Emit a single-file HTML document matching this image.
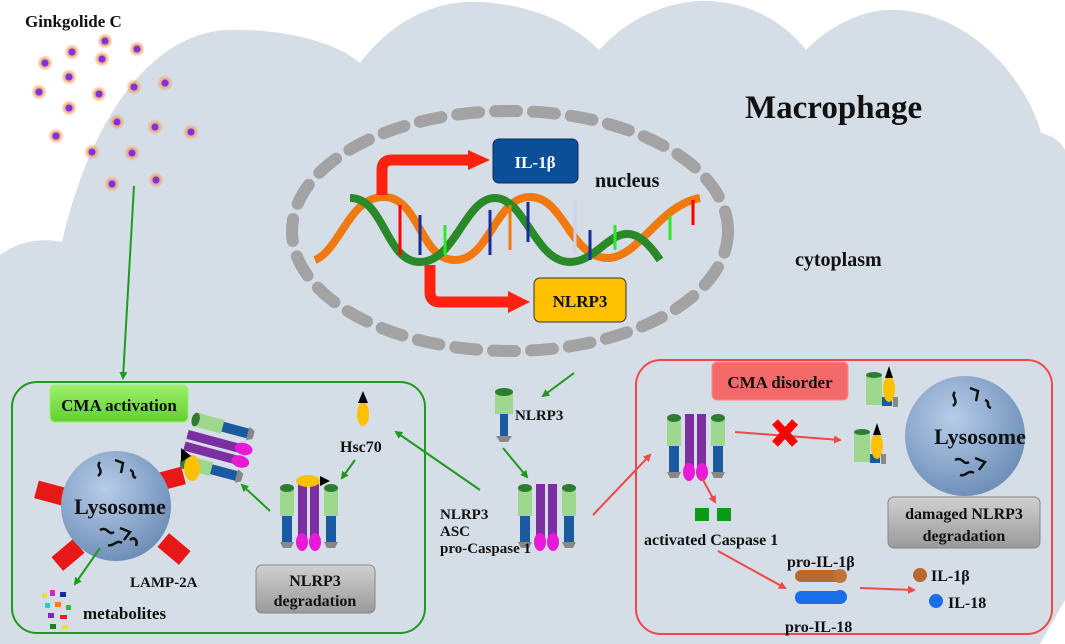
<!DOCTYPE html><html><head><meta charset="utf-8"><style>body{margin:0;background:#fff}svg{display:block}text{font-family:"Liberation Serif",serif;font-weight:bold;fill:#111}</style></head><body>
<svg width="1065" height="644" viewBox="0 0 1065 644" xmlns="http://www.w3.org/2000/svg">
<defs>
<radialGradient id="lys" cx="40%" cy="35%" r="70%"><stop offset="0" stop-color="#b7cde9"/><stop offset="1" stop-color="#6b8cb6"/></radialGradient>
<radialGradient id="halo"><stop offset="0.45" stop-color="#f0a070"/><stop offset="1" stop-color="#f0a070" stop-opacity="0"/></radialGradient>
<linearGradient id="gbox" x1="0" y1="0" x2="0" y2="1"><stop offset="0" stop-color="#9cf06a"/><stop offset="1" stop-color="#62d032"/></linearGradient>
<linearGradient id="gray" x1="0" y1="0" x2="0" y2="1"><stop offset="0" stop-color="#d0d0d0"/><stop offset="1" stop-color="#9a9a9a"/></linearGradient>
<marker id="ag" markerWidth="8" markerHeight="8" refX="6" refY="4" orient="auto" markerUnits="userSpaceOnUse"><path d="M0,0L8,4L0,8z" fill="#1f9a1f"/></marker>
<marker id="ar" markerWidth="8" markerHeight="8" refX="6" refY="4" orient="auto" markerUnits="userSpaceOnUse"><path d="M0,0L8,4L0,8z" fill="#f04848"/></marker>
<g id="cx">
<rect x="0" y="8" width="14" height="28" fill="#9ed88e"/><ellipse cx="7" cy="8" rx="7" ry="4" fill="#2e7d32"/><rect x="2" y="36" width="10" height="26" fill="#1a5aa0"/><path d="M0,62h14l-3,6h-8z" fill="#888"/>
<rect x="44" y="8" width="14" height="28" fill="#9ed88e"/><ellipse cx="51" cy="8" rx="7" ry="4" fill="#2e7d32"/><rect x="46" y="36" width="10" height="26" fill="#1a5aa0"/><path d="M44,62h14l-3,6h-8z" fill="#888"/>
<rect x="18" y="4" width="9" height="56" fill="#7b2fa0"/><rect x="30" y="4" width="9" height="56" fill="#7b2fa0"/>
<ellipse cx="22" cy="62" rx="6" ry="9" fill="#e81ad8"/><ellipse cx="35" cy="62" rx="6" ry="9" fill="#e81ad8"/>
</g>
</defs>
<path d="M0,255 C20,240 45,238 62,242 C90,120 150,35 225,30 C290,28 340,45 360,63 C400,10 450,0 480,2 C540,5 580,30 599,50 C640,5 690,0 708,1 C760,3 790,30 806,50 C840,15 880,8 898,10 C980,15 1030,90 1041,133 C1050,135 1060,140 1065,150 L1065,600 L1040,644 L0,644 Z" fill="#d5dde6"/>
<text x="25" y="27" font-size="17">Ginkgolide C</text>
<g>
<g fill="url(#halo)"><circle cx="105" cy="41" r="8"/><circle cx="137" cy="49" r="8"/><circle cx="72" cy="52" r="8"/><circle cx="102" cy="59" r="8"/><circle cx="45" cy="63" r="8"/><circle cx="69" cy="77" r="8"/><circle cx="134" cy="87" r="8"/><circle cx="165" cy="83" r="8"/><circle cx="39" cy="92" r="8"/><circle cx="99" cy="94" r="8"/><circle cx="69" cy="108" r="8"/><circle cx="117" cy="122" r="8"/><circle cx="155" cy="127" r="8"/><circle cx="191" cy="132" r="8"/><circle cx="56" cy="136" r="8"/><circle cx="92" cy="152" r="8"/><circle cx="132" cy="153" r="8"/><circle cx="156" cy="180" r="8"/><circle cx="112" cy="184" r="8"/></g>
<g fill="#7a35e0"><circle cx="105" cy="41" r="3.5"/><circle cx="137" cy="49" r="3.5"/><circle cx="72" cy="52" r="3.5"/><circle cx="102" cy="59" r="3.5"/><circle cx="45" cy="63" r="3.5"/><circle cx="69" cy="77" r="3.5"/><circle cx="134" cy="87" r="3.5"/><circle cx="165" cy="83" r="3.5"/><circle cx="39" cy="92" r="3.5"/><circle cx="99" cy="94" r="3.5"/><circle cx="69" cy="108" r="3.5"/><circle cx="117" cy="122" r="3.5"/><circle cx="155" cy="127" r="3.5"/><circle cx="191" cy="132" r="3.5"/><circle cx="56" cy="136" r="3.5"/><circle cx="92" cy="152" r="3.5"/><circle cx="132" cy="153" r="3.5"/><circle cx="156" cy="180" r="3.5"/><circle cx="112" cy="184" r="3.5"/></g>
</g>
<text x="745" y="118" font-size="33">Macrophage</text>
<text x="795" y="266" font-size="20">cytoplasm</text>
<ellipse cx="510" cy="231" rx="218" ry="120" fill="none" stroke="#a3a3a3" stroke-width="12" stroke-dasharray="22 16" stroke-linecap="round"/>
<g fill="none" stroke-width="8">
<path d="M315,260 C340,250 350,195 385,197 C420,199 420,260 455,260 C490,260 495,197 530,197 C565,197 570,260 610,258 C640,255 660,205 700,198" stroke="#f07a10"/>
<path d="M350,198 C385,198 385,262 420,262 C455,262 465,198 495,198 C525,198 535,262 570,262 C605,262 620,200 660,260" stroke="#2a8a2a"/>
</g>
<g stroke-width="3"><path d="M400,205v50" stroke="#f00"/><path d="M420,215v40" stroke="#1a2a9a"/><path d="M445,225v30" stroke="#2ee82e"/><path d="M490,210v45" stroke="#1a2a9a"/><path d="M510,205v45" stroke="#f07a10"/><path d="M528,202v40" stroke="#1a2a9a"/><path d="M575,200v55" stroke="#d0d0f0"/><path d="M590,230v30" stroke="#1a2a9a"/><path d="M615,225v25" stroke="#2ee82e"/><path d="M670,215v25" stroke="#2ee82e"/><path d="M693,200v25" stroke="#f00"/></g>
<path d="M382,195 V170 Q382,160 392,160 H470" fill="none" stroke="#f21" stroke-width="11"/><path d="M468,150 L490,160 L468,170z" fill="#f21"/>
<path d="M430,265 V292 Q430,302 440,302 H510" fill="none" stroke="#f21" stroke-width="11"/><path d="M508,291 L530,302 L508,313z" fill="#f21"/>
<rect x="493" y="139" width="85" height="44" rx="6" fill="#0b4f99" stroke="#0a2a55"/><text x="535" y="168" font-size="17" text-anchor="middle" style="fill:#fff">IL-1β</text>
<text x="595" y="187" font-size="20">nucleus</text>
<rect x="534" y="278" width="92" height="44" rx="6" fill="#ffc000" stroke="#333"/><text x="580" y="307" font-size="17" text-anchor="middle">NLRP3</text>
<line x1="134" y1="186" x2="123" y2="378" stroke="#1f9a1f" stroke-width="2" marker-end="url(#ag)"/>
<rect x="12" y="382" width="413" height="251" rx="25" fill="none" stroke="#1f9a1f" stroke-width="2"/>
<rect x="50" y="385" width="138" height="37" rx="5" fill="url(#gbox)" stroke="#9cf06a"/><text x="119" y="411" font-size="17" text-anchor="middle">CMA activation</text>
<g fill="#e81818"><rect x="36" y="484" width="28" height="18" transform="rotate(15 50 493)"/><rect x="54" y="546" width="28" height="18" transform="rotate(-40 68 555)"/><rect x="160" y="540" width="28" height="18" transform="rotate(40 174 549)"/><rect x="156" y="470" width="28" height="18" transform="rotate(-15 170 479)"/></g>
<circle cx="116" cy="506" r="55" fill="url(#lys)"/>
<g fill="none" stroke="#111" stroke-width="2.5"><path d="M100,462 c-5,5 5,8 -2,14"/><path d="M115,460 l8,3 -2,10"/><path d="M130,470 c6,2 0,6 6,8"/><path d="M100,530 c8,-4 8,6 14,2"/><path d="M120,528 l10,4 -6,8"/><path d="M108,545 c6,2 8,-6 14,-2"/><path d="M130,540 c4,-4 8,0 6,6"/></g>
<text x="120" y="514" font-size="22" text-anchor="middle">Lysosome</text>
<text x="130" y="587" font-size="15">LAMP-2A</text>
<line x1="100" y1="548" x2="75" y2="584" stroke="#1f9a1f" stroke-width="2" marker-end="url(#ag)"/>
<g><rect x="42" y="593" width="5" height="5" fill="#f0e020"/><rect x="50" y="590" width="5" height="6" fill="#e020c0"/><rect x="60" y="592" width="6" height="5" fill="#1a2a9a"/><rect x="45" y="603" width="5" height="5" fill="#20d0d0"/><rect x="55" y="602" width="6" height="5" fill="#f08020"/><rect x="66" y="605" width="5" height="5" fill="#20c040"/><rect x="48" y="613" width="6" height="5" fill="#8020e0"/><rect x="60" y="615" width="7" height="4" fill="#f02020"/><rect x="50" y="624" width="6" height="5" fill="#208020"/><rect x="62" y="625" width="6" height="4" fill="#f0e020"/></g>
<text x="83" y="619" font-size="17">metabolites</text>
<g transform="translate(217,448) rotate(-75) translate(-29,-36)"><use href="#cx"/></g>
<ellipse cx="192" cy="468" rx="8" ry="13" fill="#ffc000"/><path d="M181,448 l10,8 -10,6z" fill="#000"/>
<ellipse cx="363" cy="414" rx="6" ry="12" fill="#ffc000"/><path d="M358,403 l5,-12 5,12z" fill="#000"/>
<text x="340" y="452" font-size="16">Hsc70</text>
<line x1="355" y1="460" x2="342" y2="478" stroke="#1f9a1f" stroke-width="2" marker-end="url(#ag)"/>
<g transform="translate(280,480)"><use href="#cx"/></g>
<ellipse cx="308" cy="481" rx="12" ry="6" fill="#ffc000"/><path d="M320,476 l10,5 -10,5z" fill="#000"/>
<line x1="270" y1="511" x2="242" y2="485" stroke="#1f9a1f" stroke-width="2" marker-end="url(#ag)"/>
<rect x="256" y="565" width="119" height="48" rx="6" fill="url(#gray)" stroke="#888"/><text x="315" y="586" font-size="16" text-anchor="middle">NLRP3</text><text x="315" y="606" font-size="16" text-anchor="middle">degradation</text>
<line x1="574" y1="373" x2="543" y2="396" stroke="#1f9a1f" stroke-width="2" marker-end="url(#ag)"/>
<rect x="495" y="392" width="18" height="22" fill="#9ed88e"/><ellipse cx="504" cy="392" rx="9" ry="4" fill="#2e7d32"/><rect x="500" y="414" width="8" height="22" fill="#1a5aa0"/><path d="M496,436h16l-4,6h-8z" fill="#888"/>
<text x="515" y="420" font-size="15">NLRP3</text>
<line x1="503" y1="448" x2="527" y2="477" stroke="#1f9a1f" stroke-width="2" marker-end="url(#ag)"/>
<g transform="translate(518,480)"><use href="#cx"/></g>
<text x="440" y="519" font-size="15">NLRP3</text><text x="440" y="536" font-size="15">ASC</text><text x="440" y="553" font-size="15">pro-Caspase 1</text>
<line x1="480" y1="490" x2="396" y2="432" stroke="#1f9a1f" stroke-width="2" marker-end="url(#ag)"/>
<line x1="593" y1="515" x2="650" y2="455" stroke="#f04848" stroke-width="2" marker-end="url(#ar)"/>
<rect x="636" y="360" width="416" height="274" rx="25" fill="none" stroke="#f04848" stroke-width="2"/>
<rect x="712" y="362" width="136" height="38" rx="5" fill="#f46a6a" stroke="#f88"/><text x="780" y="388" font-size="17" text-anchor="middle">CMA disorder</text>
<g transform="translate(667,410)"><use href="#cx"/></g>
<line x1="735" y1="432" x2="840" y2="440" stroke="#f04848" stroke-width="2" marker-end="url(#ar)"/>
<path d="M775,422l20,22M795,422l-20,22" stroke="#f00" stroke-width="8"/>
<g transform="translate(866,375)"><rect x="0" y="0" width="16" height="30" fill="#9ed88e"/><ellipse cx="8" cy="0" rx="8" ry="3" fill="#2e7d32"/><rect x="16" y="22" width="10" height="9" fill="#1a5aa0"/><ellipse cx="23" cy="14" rx="6" ry="13" fill="#ffc000"/><path d="M19,3l4,-12 4,12z" fill="#000"/><path d="M27,22h5v10h-5z" fill="#888"/></g>
<g transform="translate(854,432)"><rect x="0" y="0" width="16" height="30" fill="#9ed88e"/><ellipse cx="8" cy="0" rx="8" ry="3" fill="#2e7d32"/><rect x="16" y="22" width="10" height="9" fill="#1a5aa0"/><ellipse cx="23" cy="14" rx="6" ry="13" fill="#ffc000"/><path d="M19,3l4,-12 4,12z" fill="#000"/><path d="M27,22h5v10h-5z" fill="#888"/></g>
<circle cx="965" cy="436" r="60" fill="url(#lys)"/>
<g fill="none" stroke="#111" stroke-width="2.5"><path d="M955,392 c-5,5 5,8 -2,14"/><path d="M970,388 l8,3 -2,10"/><path d="M985,400 c6,2 0,6 6,8"/><path d="M955,460 c8,-4 8,6 14,2"/><path d="M975,458 l10,4 -6,8"/><path d="M960,475 c6,2 8,-6 14,-2"/></g>
<text x="980" y="444" font-size="22" text-anchor="middle">Lysosome</text>
<rect x="888" y="497" width="152" height="51" rx="6" fill="url(#gray)" stroke="#888"/><text x="964" y="519" font-size="16" text-anchor="middle">damaged NLRP3</text><text x="964" y="541" font-size="16" text-anchor="middle">degradation</text>
<line x1="702" y1="478" x2="715" y2="502" stroke="#f04848" stroke-width="2" marker-end="url(#ar)"/>
<rect x="695" y="508" width="14" height="13" fill="#0a9a1a"/><rect x="717" y="508" width="14" height="13" fill="#0a9a1a"/>
<text x="644" y="545" font-size="16">activated Caspase 1</text>
<line x1="718" y1="551" x2="785" y2="588" stroke="#f04848" stroke-width="2" marker-end="url(#ar)"/>
<text x="787" y="567" font-size="16">pro-IL-1β</text>
<rect x="795" y="570" width="50" height="12" rx="6" fill="#b8692e"/><circle cx="840" cy="576" r="7" fill="#c0743a"/>
<rect x="795" y="591" width="50" height="13" rx="6" fill="#1a6ee8"/><circle cx="840" cy="597" r="7" fill="#1a6ee8"/>
<text x="785" y="632" font-size="16">pro-IL-18</text>
<line x1="860" y1="588" x2="914" y2="590" stroke="#f04848" stroke-width="2" marker-end="url(#ar)"/>
<circle cx="920" cy="575" r="7" fill="#b8692e"/><text x="931" y="581" font-size="16">IL-1β</text>
<circle cx="936" cy="601" r="7" fill="#1a6ee8"/><text x="948" y="608" font-size="16">IL-18</text>
</svg></body></html>
